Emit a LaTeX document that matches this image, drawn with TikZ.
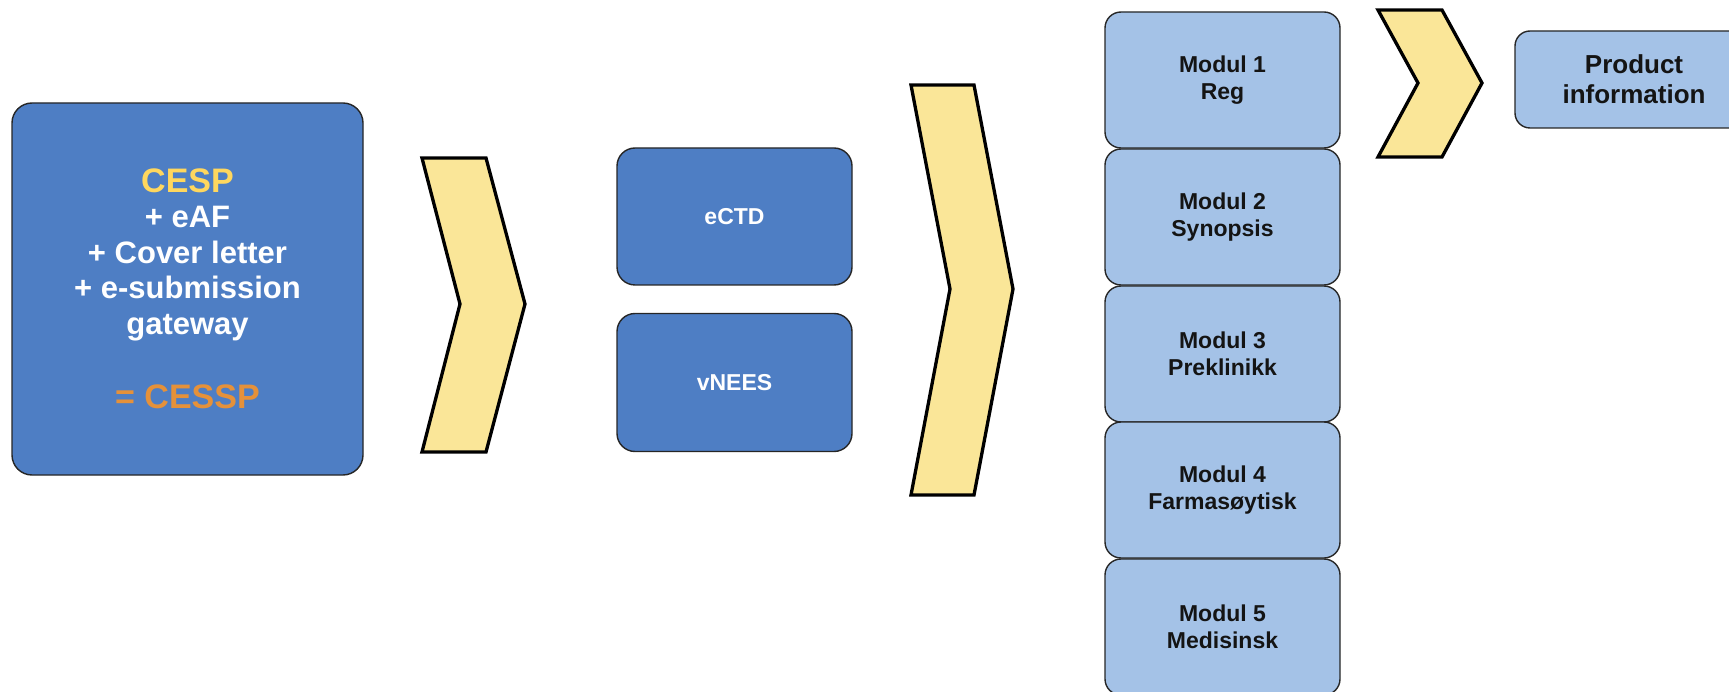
\documentclass[tikz,border=0pt]{standalone}
\usepackage{fontspec}
\setmainfont{Liberation Sans}
\definecolor{darkblue}{HTML}{4E7EC4}
\definecolor{lightblue}{HTML}{A4C2E7}
\definecolor{chevyellow}{HTML}{FAE698}
\definecolor{cespyellow}{HTML}{FFD75E}
\definecolor{cessporange}{HTML}{E5913A}
\definecolor{outline}{HTML}{262626}
\definecolor{modtext}{HTML}{141414}
\begin{document}
\begin{tikzpicture}[x=1pt,y=-1pt,
  darkbox/.style={draw=outline, line width=1.4pt, fill=darkblue, rounded corners=18pt,
    align=center, text=white, inner sep=0pt, font=\bfseries\fontsize{23}{27}\selectfont},
  modbox/.style={draw=outline, line width=1.4pt, fill=lightblue, rounded corners=16pt,
    align=center, text=modtext, inner sep=0pt, minimum width=235pt, minimum height=136pt,
    font=\bfseries\fontsize{23}{27}\selectfont},
  chevron/.style={draw=black, line width=3.3pt, fill=chevyellow, line join=miter}
]
\useasboundingbox (0,0) rectangle (1729,692);
\clip (0,0) rectangle (1729,692);

% big left box
\node[darkbox, rounded corners=20pt, minimum width=351pt, minimum height=372pt,
      font=\bfseries\fontsize{31}{35.5}\selectfont] (cesp) at (187.5,289)
  {{\fontsize{34}{35.5}\selectfont\color{cespyellow}CESP}\\
   + eAF\\
   + Cover letter\\
   + e-submission\\
   gateway\\[39pt]
   {\fontsize{34}{35.5}\selectfont\color{cessporange}= CESSP}};

% chevron 1
\draw[chevron] (422,158) -- (486,158) -- (525,304) -- (486,452) -- (422,452) -- (460,304) -- cycle;

% middle boxes
\node[darkbox, minimum width=235pt, minimum height=137pt] (ectd) at (734.5,216.5) {eCTD};
\node[darkbox, minimum width=235pt, minimum height=138pt] (vnees) at (734.5,382.5) {vNEES};

% chevron 2
\draw[chevron] (911,85) -- (974,85) -- (1013,289) -- (974,495) -- (911,495) -- (950,289) -- cycle;

% modules
\node[modbox] (m1) at (1222.5,80)  {Modul 1\\Reg};
\node[modbox] (m2) at (1222.5,217) {Modul 2\\Synopsis};
\node[modbox] (m3) at (1222.5,354) {Modul 3\\Preklinikk};
\node[modbox] (m4) at (1222.5,490) {Modul 4\\Farmasøytisk};
\node[modbox] (m5) at (1222.5,627) {Modul 5\\Medisinsk};

% chevron 3
\draw[chevron] (1378,10) -- (1442,10) -- (1482,83) -- (1442,157) -- (1378,157) -- (1418,83) -- cycle;

% product information
\node[modbox, rounded corners=15pt, minimum width=238pt, minimum height=97pt,
      font=\bfseries\fontsize{26}{30}\selectfont] (pi) at (1634,79.5) {Product\\information};
\end{tikzpicture}
\end{document}
